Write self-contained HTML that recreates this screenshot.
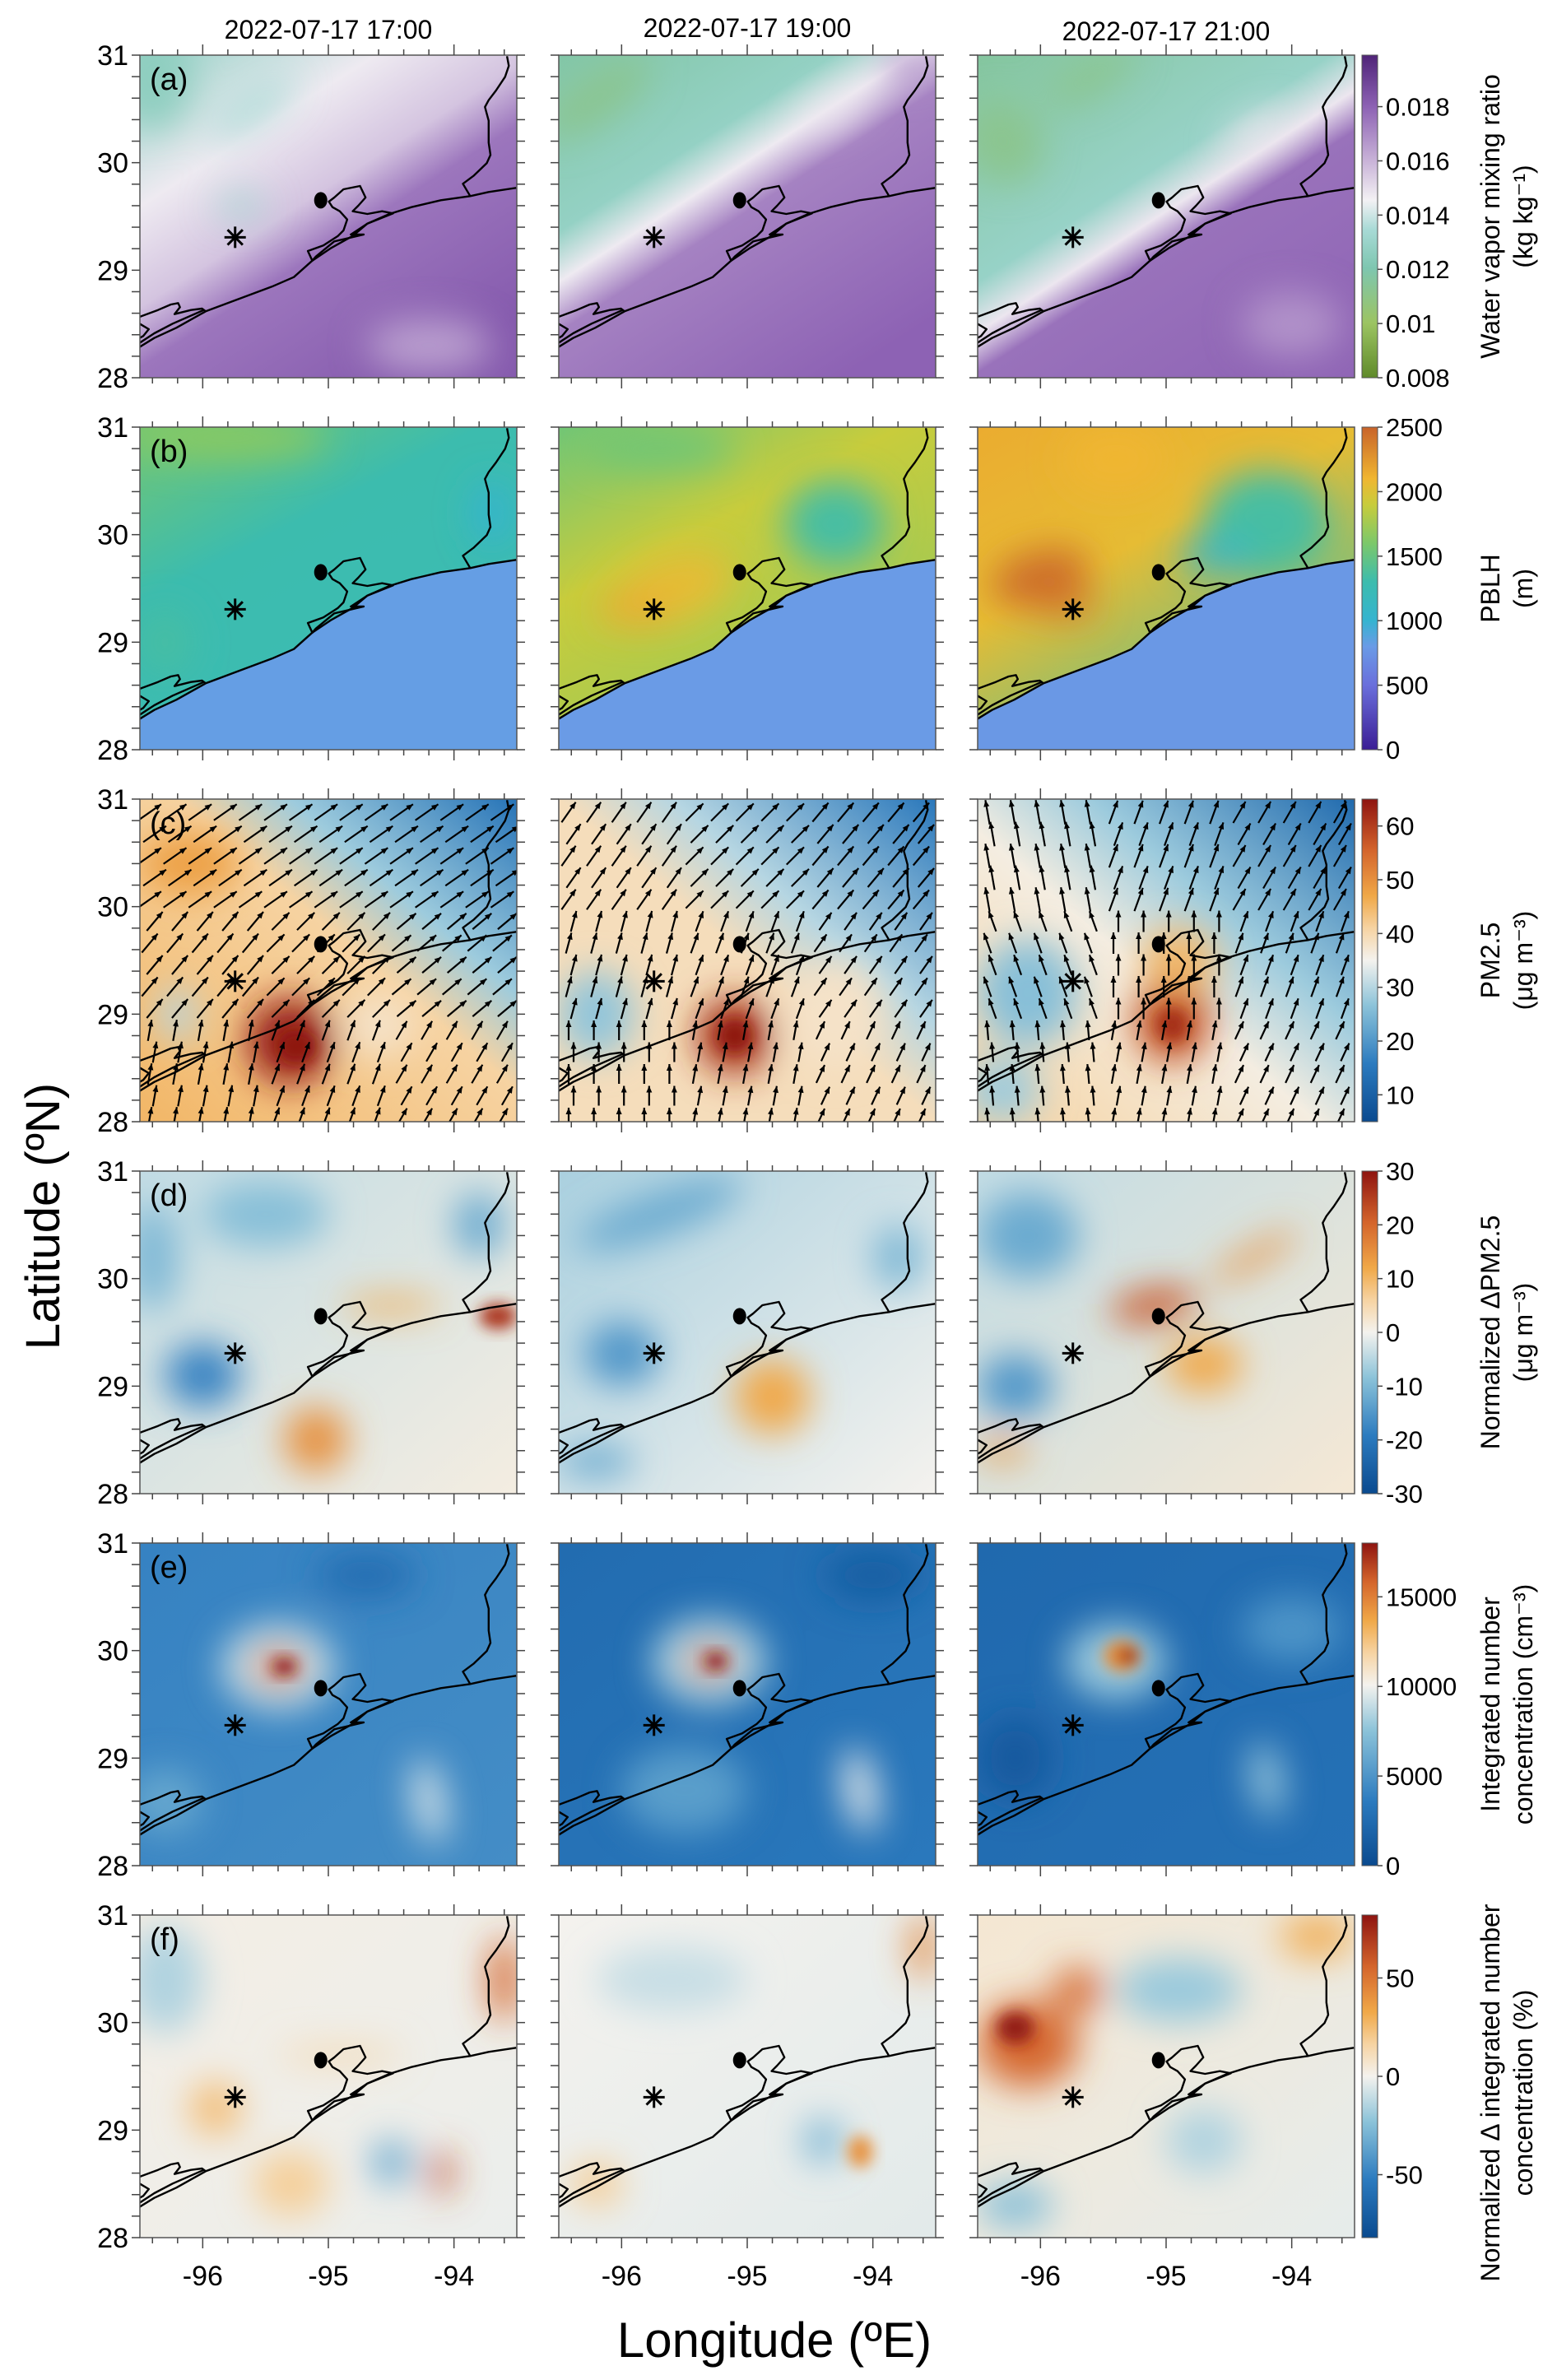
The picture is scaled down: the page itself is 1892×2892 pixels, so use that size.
<!DOCTYPE html>
<html><head><meta charset="utf-8">
<style>
html,body{margin:0;padding:0;background:#fff;}
svg{display:block;font-family:"Liberation Sans",sans-serif;}
</style></head>
<body>
<svg id="fig" width="1892" height="2892" viewBox="0 0 1892 2892" xmlns="http://www.w3.org/2000/svg">
<defs>
<filter id="blurL" x="-50%" y="-50%" width="200%" height="200%"><feGaussianBlur stdDeviation="22"/></filter>
<filter id="blurS" x="-50%" y="-50%" width="200%" height="200%"><feGaussianBlur stdDeviation="9"/></filter>
</defs>
<text x="399" y="47" font-size="32" text-anchor="middle">2022-07-17 17:00</text>
<text x="908" y="45" font-size="32" text-anchor="middle">2022-07-17 19:00</text>
<text x="1417" y="49" font-size="32" text-anchor="middle">2022-07-17 21:00</text>
<text transform="translate(72,1478) rotate(-90)" font-size="58" text-anchor="middle">Latitude (ºN)</text>
<text x="941" y="2864" font-size="60" text-anchor="middle">Longitude (ºE)</text>
</svg>
<script>
// ---- data ----
const lonTicks = [-96, -95, -94];
const lonTickLabels = ["-96", "-95", "-94"];
const latTicks = [28, 29, 30, 31];
const latTickLabels = ["28", "29", "30", "31"];
const panelLetters = ["(a)", "(b)", "(c)", "(d)", "(e)", "(f)"];
const cbarRanges = [[0.008, 0.0199], [0, 2500], [5, 65], [-30, 30], [0, 18000], [-82, 82]];
const cbarTicks = [
  [0.008, 0.01, 0.012, 0.014, 0.016, 0.018],
  [0, 500, 1000, 1500, 2000, 2500],
  [10, 20, 30, 40, 50, 60],
  [-30, -20, -10, 0, 10, 20, 30],
  [0, 5000, 10000, 15000],
  [-50, 0, 50]
];
const cbarTickLabels = [
  ["0.008", "0.01", "0.012", "0.014", "0.016", "0.018"],
  ["0", "500", "1000", "1500", "2000", "2500"],
  ["10", "20", "30", "40", "50", "60"],
  ["-30", "-20", "-10", "0", "10", "20", "30"],
  ["0", "5000", "10000", "15000"],
  ["-50", "0", "50"]
];
const cbarTitles = [
  ["Water vapor mixing ratio", "(kg kg\u207B\u00B9)"],
  ["PBLH", "(m)"],
  ["PM2.5", "(\u03BCg m\u207B\u00B3)"],
  ["Normalized \u0394PM2.5", "(\u03BCg m\u207B\u00B3)"],
  ["Integrated number", "concentration (cm\u207B\u00B3)"],
  ["Normalized \u0394 integrated number", "concentration (%)"]
];
const cmapWater = [[0, "#5f8a2a"], [0.17, "#9cc462"], [0.34, "#7ec6b0"], [0.46, "#a8dad6"], [0.55, "#f3f1f4"], [0.68, "#c6afd6"], [0.84, "#8d62b4"], [1, "#4f2378"]];
const cmapPblh = [[0, "#3b1d95"], [0.2, "#6a6fdc"], [0.32, "#6a9be6"], [0.4, "#35b4d0"], [0.52, "#3cbcae"], [0.64, "#7cc86a"], [0.76, "#c8cc3c"], [0.84, "#f0b631"], [1, "#c8632a"]];
const cmapDiv = [[0, "#0a4a8f"], [0.18, "#2c7bbf"], [0.36, "#8cc3d9"], [0.5, "#f4f2ee"], [0.6, "#f6d3a2"], [0.7, "#f0a848"], [0.84, "#d4652c"], [1, "#8e1410"]];
const cmapDivE = [[0, "#0a4a8f"], [0.2, "#2c7bbf"], [0.42, "#8cc3d9"], [0.56, "#f4f2ee"], [0.66, "#f6d3a2"], [0.76, "#f0a848"], [0.88, "#d4652c"], [1, "#8e1410"]];
const rowCmaps = [cmapWater, cmapPblh, cmapDiv, cmapDiv, cmapDivE, cmapDiv];

const baseGrad = [
  [[[0, 0.0130], [0.3, 0.0147], [0.5, 0.0156], [0.62, 0.0175], [1, 0.0182]], [[0, 0.0118], [0.35, 0.0128], [0.45, 0.0147], [0.55, 0.0172], [1, 0.0180]], [[0, 0.0116], [0.45, 0.0129], [0.55, 0.0148], [0.63, 0.0176], [1, 0.0179]]],
  [[[0, 1550], [0.4, 1300], [1, 1250]], [[0, 1550], [0.4, 1900], [1, 1700]], [[0, 2150], [0.45, 2050], [1, 1400]]],
  [[[0, 14], [0.3, 28], [0.45, 41], [1, 45]], [[0, 15], [0.35, 30], [0.5, 39], [1, 39]], [[0, 12], [0.35, 28], [0.55, 36], [1, 41]]],
  [[[0, -4], [1, 1]], [[0, -6], [1, 0]], [[0, -4], [1, 2]]],
  [[[0, 4000], [1, 4600]], [[0, 2500], [1, 3400]], [[0, 2300], [1, 2900]]],
  [[[0, 2], [1, -2]], [[0, 0], [1, -4]], [[0, 6], [1, -3]]]
];
const gradDir = [[0, 0, 0.75, 1], [0, 0, 0.6, 1], [1, 0, 0, 1], [0, 0, 1, 1], [0, 0, 1, 1], [0, 0, 1, 1]];
const seaValue = [820, 800, 780];
// blobs: [lon, lat, rxDeg, ryDeg, value, rotationDeg]
const blobs = [
  [
    [[-96.4, 30.8, 0.3, 0.5, 0.0126, 0], [-95.6, 30.5, 0.4, 0.12, 0.0135, -35], [-95.7, 29.6, 0.2, 0.1, 0.0132, 0], [-94.2, 28.3, 0.5, 0.25, 0.0165, 0]],
    [[-96.2, 30.6, 0.5, 0.2, 0.0112, -35], [-94.3, 30.5, 0.3, 0.1, 0.0148, -30], [-93.7, 30.9, 0.2, 0.15, 0.0168, 0]],
    [[-96.3, 30.2, 0.3, 0.4, 0.0112, -30], [-95.6, 30.8, 0.4, 0.15, 0.0112, -30], [-94.3, 30.3, 0.3, 0.1, 0.0148, -30], [-94.0, 28.5, 0.4, 0.3, 0.0168, 0]]
  ],
  [
    [[-95.8, 30.9, 0.8, 0.2, 1650, 0], [-96.3, 29.0, 0.2, 0.3, 1350, 0], [-93.7, 30.2, 0.15, 0.3, 1000, 0]],
    [[-95.6, 29.5, 0.5, 0.3, 2050, -20], [-95.9, 29.3, 0.3, 0.15, 2150, 0], [-94.3, 30.1, 0.4, 0.4, 1350, 0], [-95.7, 30.8, 0.6, 0.2, 1550, 0]],
    [[-96.0, 29.6, 0.4, 0.25, 2450, -15], [-95.8, 29.35, 0.25, 0.12, 2400, 0], [-94.2, 30.1, 0.5, 0.5, 1350, 0], [-94.6, 29.8, 0.3, 0.15, 1050, 0], [-95.4, 30.7, 0.4, 0.3, 2100, 0]]
  ],
  [
    [[-95.3, 28.75, 0.35, 0.4, 64, 0], [-95.25, 28.7, 0.15, 0.15, 66, 0], [-96.1, 30.4, 0.4, 0.3, 48, 0], [-96.2, 29.0, 0.15, 0.25, 30, 0], [-94.6, 28.9, 0.3, 0.3, 38, 0]],
    [[-95.1, 28.8, 0.3, 0.35, 62, 0], [-95.1, 28.8, 0.13, 0.15, 65, 0], [-96.2, 29.0, 0.3, 0.4, 27, 0], [-94.3, 29.0, 0.4, 0.5, 38, 0]],
    [[-94.95, 28.95, 0.3, 0.4, 58, 0], [-94.95, 28.9, 0.12, 0.15, 62, 0], [-96.1, 29.2, 0.4, 0.5, 26, 0], [-96.3, 28.3, 0.3, 0.3, 28, 0], [-94.9, 29.5, 0.3, 0.3, 45, 0]]
  ],
  [
    [[-96.0, 29.1, 0.3, 0.3, -18, 0], [-95.1, 28.5, 0.25, 0.3, 15, 0], [-93.65, 29.65, 0.15, 0.12, 26, 0], [-94.5, 29.75, 0.4, 0.08, 12, 0], [-95.5, 30.6, 0.5, 0.3, -9, 0], [-93.8, 30.5, 0.2, 0.3, -12, 0], [-96.4, 30.2, 0.2, 0.5, -10, 0]],
    [[-96.0, 29.3, 0.3, 0.3, -15, 0], [-95.7, 30.6, 0.7, 0.2, -12, -20], [-94.8, 28.9, 0.3, 0.35, 12, 0], [-93.8, 30.2, 0.2, 0.3, -10, 0], [-96.2, 28.3, 0.3, 0.15, -12, 0]],
    [[-95.1, 29.75, 0.35, 0.15, 22, -10], [-94.3, 30.2, 0.4, 0.08, 15, -30], [-96.1, 30.4, 0.4, 0.4, -12, 0], [-96.2, 29.0, 0.3, 0.3, -15, 0], [-94.7, 29.2, 0.3, 0.25, 12, 0], [-96.3, 28.4, 0.2, 0.1, 14, 0]]
  ],
  [
    [[-95.4, 29.85, 0.45, 0.4, 9000, 0], [-95.4, 29.85, 0.2, 0.17, 15000, 0], [-95.35, 29.85, 0.1, 0.08, 18000, 0], [-94.2, 28.6, 0.12, 0.4, 9500, -10], [-96.3, 28.6, 0.3, 0.3, 6000, 0], [-94.7, 30.7, 0.4, 0.2, 2500, 0]],
    [[-95.3, 29.9, 0.45, 0.4, 8500, 0], [-95.3, 29.9, 0.18, 0.15, 15000, 0], [-95.25, 29.9, 0.09, 0.08, 18000, 0], [-94.1, 28.7, 0.12, 0.4, 10000, -10], [-95.5, 28.7, 0.5, 0.4, 5500, 0], [-94.0, 30.7, 0.4, 0.25, 1500, 0]],
    [[-95.4, 29.9, 0.4, 0.35, 8000, 0], [-95.35, 29.95, 0.15, 0.15, 14500, 0], [-95.3, 29.95, 0.08, 0.08, 17500, 0], [-94.2, 28.8, 0.12, 0.35, 8000, -10], [-96.2, 29.0, 0.3, 0.4, 1200, 0], [-94.0, 30.2, 0.4, 0.3, 5000, 0]]
  ],
  [
    [[-93.6, 30.4, 0.12, 0.4, 55, 0], [-94.1, 28.6, 0.08, 0.2, 65, 0], [-94.5, 28.7, 0.15, 0.2, -35, 0], [-95.9, 29.2, 0.2, 0.25, 25, 0], [-95.3, 28.5, 0.3, 0.3, 18, 0], [-96.3, 30.4, 0.3, 0.5, -15, 0], [-94.9, 29.7, 0.5, 0.06, 18, 0]],
    [[-93.6, 30.7, 0.1, 0.3, 45, 0], [-94.1, 28.8, 0.1, 0.15, 40, 0], [-94.4, 28.9, 0.15, 0.2, -30, 0], [-96.2, 28.5, 0.2, 0.2, 20, 0], [-95.6, 30.4, 0.6, 0.3, -10, 0]],
    [[-96.1, 29.8, 0.4, 0.4, 55, 0], [-96.2, 29.95, 0.15, 0.15, 80, 0], [-95.7, 30.3, 0.2, 0.2, 55, 0], [-94.9, 30.3, 0.5, 0.3, -20, 0], [-93.8, 30.8, 0.3, 0.2, 30, 0], [-96.2, 28.3, 0.3, 0.2, -25, 0], [-94.7, 28.9, 0.3, 0.3, -15, 0]]
  ]
];
const windDir = [
  [[55, 55, 55], [40, 45, 50], [10, 20, 30]],
  [[35, 45, 40], [15, 20, 35], [0, 10, 25]],
  [[-10, 20, 30], [-20, 0, 20], [-5, 10, 25]]
];
const windLen = [[34, 30, 26], [30, 26, 24], [30, 26, 24]];

const coastMain = [[380,1265],[420,1232],[480,1195],[560,1135],[650,1090],[740,1045],[800,1010],[850,950],[900,905],[960,860],[1000,815],[1060,780],[1120,755],[1200,730],[1280,715],[1330,700],[1405,685]];
const coast2 = [[380,1250],[420,1215],[470,1180],[555,1130]];
const lagoon = [[380,1155],[430,1130],[465,1110],[485,1105],[490,1120],[475,1145],[520,1130],[550,1125],[560,1135]];
const loop = [[380,1180],[405,1200],[390,1225],[380,1232]];
const border = [[1280,715],[1260,670],[1290,640],[1325,595],[1335,565],[1330,520],[1330,440],[1320,390],[1330,365],[1350,330],[1375,280],[1385,240],[1380,205]];
const bay = [[850,950],[838,915],[880,895],[920,860],[935,840],[945,800],[925,770],[905,755],[895,735],[910,720],[935,690],[980,678],[995,720],[975,750],[960,770],[1000,780],[1040,770],[1070,778],[1000,815],[955,855],[990,855],[910,880],[860,935]];
const dotPt = [873, 730];
const starPt = [640, 865];

const colX = [170, 679, 1188];
const rowY = [67, 519, 971, 1423, 1875, 2327];
const PW = 458, PH = 392;
const LON0 = -96.5, LON1 = -93.5, LAT0 = 28, LAT1 = 31;
const CBX = 1655, CBW = 19;

const NS = "http://www.w3.org/2000/svg";
const svg = document.getElementById("fig");
const defs = svg.querySelector("defs");
function mk(tag, attrs, parent) {
  const e = document.createElementNS(NS, tag);
  for (const k in attrs) e.setAttribute(k, attrs[k]);
  (parent || svg).appendChild(e);
  return e;
}
function hex2rgb(h) { return [parseInt(h.substr(1,2),16), parseInt(h.substr(3,2),16), parseInt(h.substr(5,2),16)]; }
function cmapColor(cm, t) {
  t = Math.max(0, Math.min(1, t));
  for (let i = 1; i < cm.length; i++) {
    if (t <= cm[i][0]) {
      const a = cm[i-1], b = cm[i];
      const f = (t - a[0]) / (b[0] - a[0] || 1);
      const A = hex2rgb(a[1]), B = hex2rgb(b[1]);
      return "rgb(" + A.map((v, k) => Math.round(v + (B[k] - v) * f)).join(",") + ")";
    }
  }
  return cm[cm.length-1][1];
}
function valColor(row, v) {
  const r = cbarRanges[row];
  return cmapColor(rowCmaps[row], (v - r[0]) / (r[1] - r[0]));
}
function xScale(c) { return lon => colX[c] + (lon - LON0) / (LON1 - LON0) * PW; }
function yScale(r) { return lat => rowY[r] + (LAT1 - lat) / (LAT1 - LAT0) * PH; }
function cvt(c, r, p) { return [colX[c] + (p[0] / 2.24 - 170) / 458 * PW, rowY[r] + (p[1] / 3 - 67) / 392 * PH]; }
function pathOf(c, r, pts, close) {
  return pts.map((p, i) => { const q = cvt(c, r, p); return (i ? "L" : "M") + q[0].toFixed(1) + "," + q[1].toFixed(1); }).join("") + (close ? "Z" : "");
}

for (let r = 0; r < 6; r++) {
  for (let c = 0; c < 3; c++) {
    const X = xScale(c), Y = yScale(r);
    const x0 = colX[c], y0 = rowY[r];
    const g = mk("g", {});
    
    
    const cid = "clip" + r + c;
    const cp = mk("clipPath", { id: cid }, defs);
    mk("rect", { x: x0, y: y0, width: PW, height: PH }, cp);
    const gid = "grad" + r + c;
    const d = gradDir[r];
    const lg = mk("linearGradient", { id: gid, x1: d[0], y1: d[1], x2: d[2], y2: d[3] }, defs);
    baseGrad[r][c].forEach(s => mk("stop", { offset: s[0], "stop-color": valColor(r, s[1]) }, lg));
    const fg = mk("g", { "clip-path": "url(#" + cid + ")" }, g);
    const bg = mk("rect", { x: x0, y: y0, width: PW, height: PH, fill: "url(#" + gid + ")" }, fg);
    
    
    const bl = mk("g", { filter: "url(#blurL)" }, fg);
    const bs = mk("g", { filter: "url(#blurS)" }, fg);
    blobs[r][c].forEach(b => {
      const cx = X(b[0]), cy = Y(b[1]);
      const parent = (b[2] <= 0.15 && b[3] <= 0.15) ? bs : bl;
      const e = mk("ellipse", { cx: cx, cy: cy, rx: b[2] / 3 * PW, ry: b[3] / 3 * PH, fill: valColor(r, b[4]), transform: "rotate(" + b[5] + "," + cx + "," + cy + ")" }, parent);
      
      
    });
    if (r === 1) {
      const seaPts = coastMain.map(p => cvt(c, r, p));
      let dd = "M" + x0 + "," + (y0 + PH) + seaPts.map(q => "L" + q[0] + "," + q[1]).join("") + "L" + (x0 + PW) + "," + seaPts[seaPts.length-1][1] + "L" + (x0 + PW) + "," + (y0 + PH) + "Z";
      const sea = mk("path", { d: dd, fill: valColor(r, seaValue[c]) }, fg);
      
      
    }
    if (r === 2) {
      const ag = mk("g", { stroke: "#000", "stroke-width": 2.2, fill: "#000" }, fg);
      
      
      for (let i = 0; i < 15; i++) for (let j = 0; j < 15; j++) {
        const px = x0 + 12 + j * 30.6 + (i % 2) * 6, py = y0 + 16 + i * 26.5;
        const gi = Math.min(2, Math.floor(i / 5)), gj = Math.min(2, Math.floor(j / 5));
        const ang = windDir[c][gi][gj] * Math.PI / 180, L = windLen[c][gi];
        const dx = Math.sin(ang) * L, dy = -Math.cos(ang) * L;
        mk("line", { x1: px - dx / 2, y1: py - dy / 2, x2: px + dx / 2, y2: py + dy / 2 }, ag);
        const hx = px + dx / 2, hy = py + dy / 2, ux = dx / L, uy = dy / L;
        mk("path", { d: "M" + hx + "," + hy + "L" + (hx - ux * 8 - uy * 3.5) + "," + (hy - uy * 8 + ux * 3.5) + "L" + (hx - ux * 8 + uy * 3.5) + "," + (hy - uy * 8 - ux * 3.5) + "Z", stroke: "none" }, ag);
      }
    }
    const cg = mk("g", { fill: "none", stroke: "#000", "stroke-width": 2.4, "stroke-linejoin": "round" }, fg);
    
    
    [coastMain, coast2, lagoon, loop, border].forEach(p => mk("path", { d: pathOf(c, r, p, false) }, cg));
    mk("path", { d: pathOf(c, r, bay, true) }, cg);
    const dp = cvt(c, r, dotPt);
    const dot = mk("ellipse", { cx: dp[0], cy: dp[1], rx: 8, ry: 10, fill: "#000" }, g);
    
    
    const sp = cvt(c, r, starPt);
    const st = mk("g", { stroke: "#000", "stroke-width": 3 }, g);
    
    
    for (let k = 0; k < 4; k++) {
      const a = k * Math.PI / 4, s = 13;
      mk("line", { x1: sp[0] - Math.sin(a) * s, y1: sp[1] - Math.cos(a) * s, x2: sp[0] + Math.sin(a) * s, y2: sp[1] + Math.cos(a) * s }, st);
    }
    mk("rect", { x: x0, y: y0, width: PW, height: PH, fill: "none", stroke: "#555", "stroke-width": 1.5 }, g);
    const tg = mk("g", { stroke: "#444", "stroke-width": 1.5 }, g);
    
    
    for (let lon = -96.4; lon < -93.5; lon += 0.2) {
      const major = Math.abs(lon - Math.round(lon)) < 0.01;
      const len = major ? 13 : 7, x = X(lon);
      mk("line", { x1: x, y1: y0, x2: x, y2: y0 - len }, tg);
      mk("line", { x1: x, y1: y0 + PH, x2: x, y2: y0 + PH + len }, tg);
    }
    for (let lat = 28; lat <= 31.001; lat += 0.2) {
      const y = Y(lat);
      mk("line", { x1: x0, y1: y, x2: x0 - 10, y2: y }, tg);
      if (c < 2) mk("line", { x1: x0 + PW, y1: y, x2: x0 + PW + 10, y2: y }, tg);
    }
    if (c === 0) {
      latTicks.forEach((t, i) => {
        const tx = mk("text", { x: x0 - 14, y: Y(t) + 12, "font-size": 34, "text-anchor": "end" });
        tx.textContent = latTickLabels[i];
        
        
      });
      const pl = mk("text", { x: x0 + 12, y: y0 + 42, "font-size": 38 });
      pl.textContent = panelLetters[r];
      
      
    }
    if (r === 5) {
      lonTicks.forEach((t, i) => {
        const tx = mk("text", { x: X(t), y: 2777, "font-size": 34, "text-anchor": "middle" });
        tx.textContent = lonTickLabels[i];
        
        
      });
    }
  }
  const y0 = rowY[r], rng = cbarRanges[r];
  const cg = mk("g", {});
  
  
  const cbid = "cb" + r;
  const lg = mk("linearGradient", { id: cbid, x1: 0, y1: 1, x2: 0, y2: 0 }, defs);
  rowCmaps[r].forEach(s => mk("stop", { offset: s[0], "stop-color": s[1] }, lg));
  mk("rect", { x: CBX, y: y0, width: CBW, height: PH, fill: "url(#" + cbid + ")", stroke: "#555", "stroke-width": 1 }, cg);
  const cy = v => y0 + PH - (v - rng[0]) / (rng[1] - rng[0]) * PH;
  cbarTicks[r].forEach((t, i) => {
    mk("line", { x1: CBX + CBW, y1: cy(t), x2: CBX + CBW + 6, y2: cy(t), stroke: "#444", "stroke-width": 1.5 }, cg);
    const tx = mk("text", { x: CBX + CBW + 10, y: cy(t) + 11, "font-size": 31 }, cg);
    tx.textContent = cbarTickLabels[r][i];
    
    
  });
  const mid = y0 + PH / 2 + (r === 5 ? 20 : 0);
  const t1 = mk("text", { transform: "translate(1822," + mid + ") rotate(-90)", "font-size": 32, "text-anchor": "middle" });
  t1.textContent = cbarTitles[r][0];
  
  
  const t2 = mk("text", { transform: "translate(1862," + mid + ") rotate(-90)", "font-size": 32, "text-anchor": "middle" });
  t2.textContent = cbarTitles[r][1];
  
  
}
</script>
</body></html>
